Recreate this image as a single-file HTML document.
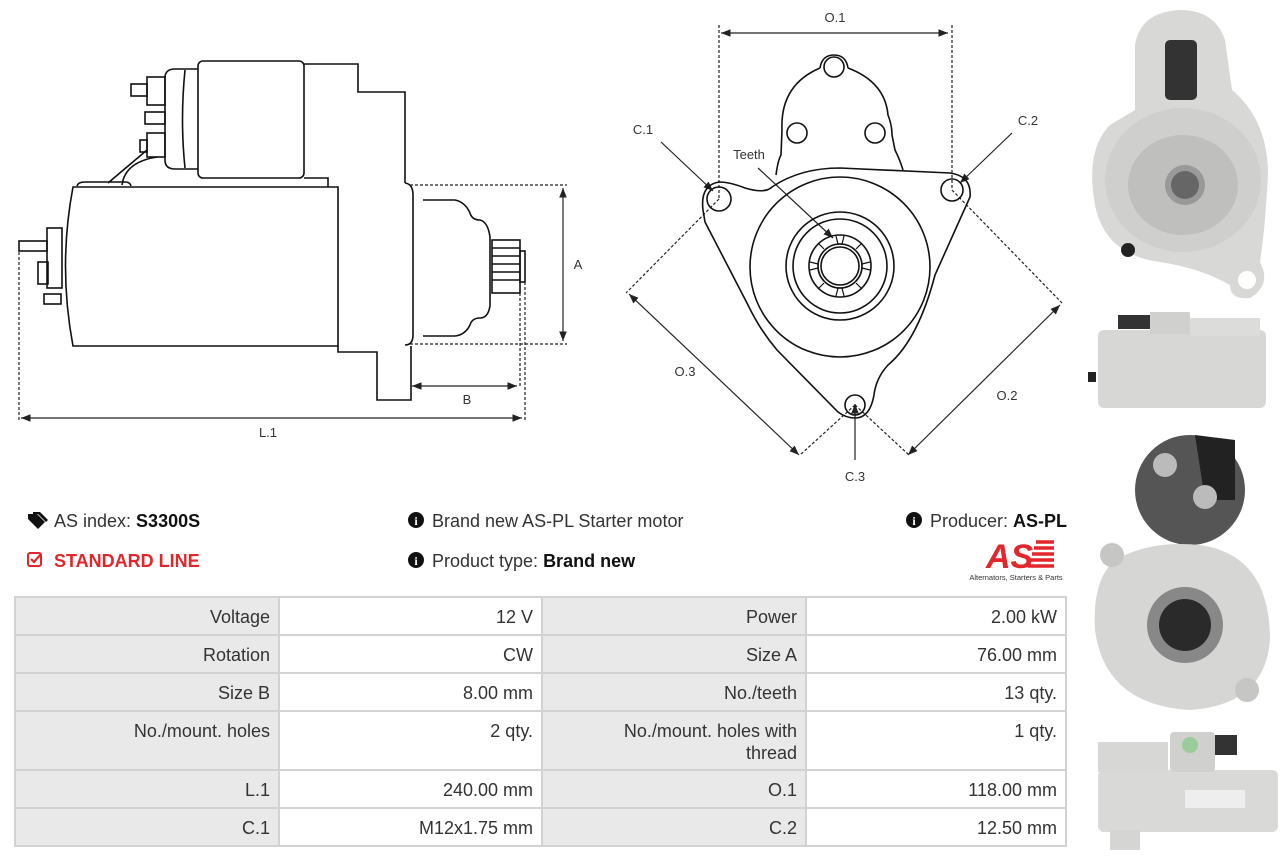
<!DOCTYPE html>
<html><head><meta charset="utf-8">
<style>
html,body{margin:0;padding:0;background:#fff;width:1282px;height:860px;overflow:hidden;position:relative;font-family:"Liberation Sans",sans-serif;}
svg{position:absolute;left:0;top:0}
.t{position:absolute;font-size:18px;color:#333;white-space:nowrap;line-height:20px}
.t b{color:#111}
table{position:absolute;left:14px;top:596px;width:1053px;border-collapse:collapse;font-size:18px;color:#333}
td{border:2px solid #d2d2d2;text-align:right;padding:0 8px;vertical-align:top;line-height:22px}
td.l{background:#e9e9e9}
td.v{background:#fff}
</style></head><body>
<svg width="1282" height="860" viewBox="0 0 1282 860">
<defs>
<marker id="ar" viewBox="0 0 10 10" refX="10" refY="5" markerWidth="8" markerHeight="8" orient="auto-start-reverse"><path d="M0,1 L10,5 L0,9 z" fill="#222"/></marker>
</defs>
<g fill="none" stroke="#111" stroke-width="1.6">
<path d="M73,187 L338,187 L338,346 L73,346 Q58,266 73,187 Z" fill="#fff"/>
<rect x="198" y="61" width="106" height="117" rx="5" fill="#fff"/>
<path d="M198,69 L175,69 Q165,69 165,78 L165,160 Q165,169 175,169 L198,169"/>
<path d="M185,70 Q180,120 185,168"/>
<path d="M304,64 L358,64 L358,92 L405,92 L405,183 M304,178 L328,178 L328,187"/>
<path d="M338,346 L338,352 L377,352 L377,400 L411,400 L411,346"/>
<path d="M405,183 Q413,184 413,195 L413,335 Q413,345 405,345"/>
<path d="M423,200 L455,200 Q465,202 470,213 Q472,220 480,220 Q488,222 490,237 L490,306 Q488,318 480,318 Q472,318 470,325 Q465,335 455,336 L423,336"/>
<rect x="492" y="240" width="28" height="53"/>
<path d="M492,248 L520,248 M492,256 L520,256 M492,264 L520,264 M492,272 L520,272 M492,280 L520,280"/>
<rect x="520" y="251" width="5" height="31"/>
<rect x="47" y="228" width="15" height="60"/>
<rect x="38" y="262" width="10" height="22"/>
<rect x="19" y="241" width="28" height="10"/>
<rect x="44" y="294" width="17" height="10"/>
<rect x="147" y="77" width="18" height="28"/>
<rect x="131" y="84" width="16" height="12"/>
<rect x="147" y="133" width="18" height="24"/>
<rect x="140" y="140" width="7" height="12"/>
<rect x="145" y="112" width="20" height="12"/>
<path d="M147,150 L108,183 M157,157 Q125,162 122,185 M77,186 Q78,182 85,182 L125,182 Q130,182 131,186"/>
</g>
<g stroke="#222" stroke-width="1.2" fill="none" stroke-dasharray="3,2">
<path d="M410,185 L567,185 M410,344 L567,344 M520,293 L520,386 M525,282 L525,421 M19,252 L19,421"/>
<path d="M719,25 L719,200 M952,25 L952,190"/>
<path d="M719,199 L626,293 M855,405 L800,455 M952,190 L1062,303 M855,405 L909,455"/>
</g>
<g stroke="#222" stroke-width="1.2" fill="none" marker-start="url(#ar)" marker-end="url(#ar)">
<path d="M563,188 L563,341"/>
<path d="M412,386 L517,386"/>
<path d="M21,418 L522,418"/>
<path d="M721,33 L948,33"/>
<path d="M629,294 L799,455"/>
<path d="M1060,305 L908,455"/>
</g>
<g stroke="#222" stroke-width="1.2" fill="none" marker-end="url(#ar)">
<path d="M661,142 L713,191"/>
<path d="M1012,133 L960,183"/>
<path d="M855,460 L855,404"/>
<path d="M758,168 L833,238"/>
</g>
<g fill="none" stroke="#111" stroke-width="1.6">
<path d="M776,175 Q778,160 781,155 L782,130 Q780,85 820,68 M848,68 Q885,82 888,115 Q892,125 892,135 L895,150 Q900,160 903,170"/>
<path d="M703,210 Q700,185 719,182 Q730,182 745,188 Q765,194 772,187 Q800,168 840,168 L950,173 Q972,176 970,197 L935,275 Q918,340 888,365 Q876,378 874,395 Q870,418 855,418 Q846,418 838,412 L777,350 Q760,330 748,305 L705,222 Z"/>
<path d="M820,68 Q822,55 834,55 Q846,55 848,68"/>
<circle cx="834" cy="67" r="10"/><circle cx="797" cy="133" r="10"/><circle cx="875" cy="133" r="10"/>
<circle cx="719" cy="199" r="12"/><circle cx="952" cy="190" r="11"/><circle cx="855" cy="405" r="10"/>
<circle cx="840" cy="267" r="90"/>
<circle cx="840" cy="266" r="54"/><circle cx="840" cy="266" r="47"/><circle cx="840" cy="266" r="31"/>
<circle cx="840" cy="266" r="22"/><circle cx="840" cy="266" r="19"/>
<g stroke-width="1.2">
<path d="M836,236 L838,244 L842,244 L844,236 M836,296 L838,288 L842,288 L844,296 M810,262 L818,264 L818,268 L810,270 M870,262 L862,264 L862,268 L870,270 M818,243 L824,249 M862,243 L856,249 M818,289 L824,283 M862,289 L856,283"/>
</g>
</g>
<g font-family="Liberation Sans,sans-serif" font-size="13" fill="#333">
<text x="578" y="269" text-anchor="middle">A</text>
<text x="467" y="404" text-anchor="middle">B</text>
<text x="268" y="437" text-anchor="middle">L.1</text>
<text x="835" y="22" text-anchor="middle">O.1</text>
<text x="643" y="134" text-anchor="middle">C.1</text>
<text x="1028" y="125" text-anchor="middle">C.2</text>
<text x="855" y="481" text-anchor="middle">C.3</text>
<text x="749" y="159" text-anchor="middle">Teeth</text>
<text x="685" y="376" text-anchor="middle">O.3</text>
<text x="1007" y="400" text-anchor="middle">O.2</text>
</g>
<g>
<path d="M1135,45 Q1140,12 1180,10 Q1215,10 1225,40 L1232,90 Q1268,120 1268,175 Q1265,230 1260,262 Q1272,285 1250,298 Q1230,300 1230,285 Q1200,268 1160,262 Q1105,255 1095,205 Q1085,150 1110,125 L1135,110 Z" fill="#d8d8d6"/>
<ellipse cx="1183" cy="180" rx="78" ry="72" fill="#cfcfcd"/>
<ellipse cx="1183" cy="185" rx="55" ry="50" fill="#bfbfbd"/>
<circle cx="1185" cy="185" r="20" fill="#999"/><circle cx="1185" cy="185" r="14" fill="#666"/>
<rect x="1165" y="40" width="32" height="60" rx="5" fill="#333"/>
<circle cx="1128" cy="250" r="7" fill="#222"/><circle cx="1247" cy="280" r="9" fill="#fff"/>
<rect x="1098" y="330" width="168" height="78" rx="6" fill="#d7d7d5"/>
<rect x="1150" y="312" width="40" height="22" fill="#d0d0ce"/>
<rect x="1118" y="315" width="32" height="14" fill="#333"/>
<rect x="1190" y="318" width="70" height="18" fill="#dcdcda"/>
<rect x="1088" y="372" width="8" height="10" fill="#222"/>
<ellipse cx="1190" cy="490" rx="55" ry="55" fill="#555"/>
<path d="M1195,435 L1235,440 L1235,500 L1205,500 Z" fill="#222"/>
<circle cx="1165" cy="465" r="12" fill="#bbb"/><circle cx="1205" cy="497" r="12" fill="#bbb"/>
<path d="M1115,560 Q1150,540 1200,545 Q1270,555 1270,640 Q1265,705 1190,710 Q1105,705 1095,630 Q1092,580 1115,560 Z" fill="#d6d6d4"/>
<circle cx="1185" cy="625" r="38" fill="#888"/><circle cx="1185" cy="625" r="26" fill="#2a2a2a"/>
<circle cx="1112" cy="555" r="12" fill="#c6c6c4"/><circle cx="1247" cy="690" r="12" fill="#c6c6c4"/>
<rect x="1098" y="770" width="180" height="62" rx="6" fill="#d9d9d7"/>
<rect x="1098" y="742" width="70" height="30" fill="#d7d7d5"/>
<rect x="1170" y="732" width="45" height="40" rx="4" fill="#d0d0ce"/>
<circle cx="1190" cy="745" r="8" fill="#9c9"/>
<rect x="1215" y="735" width="22" height="20" fill="#333"/>
<rect x="1185" y="790" width="60" height="18" fill="#eee"/>
<rect x="1110" y="830" width="30" height="20" fill="#d5d5d3"/>
</g>
<g>
<text x="986" y="568" font-family="Liberation Sans,sans-serif" font-weight="bold" font-style="italic" font-size="34" fill="#e3262b">AS</text>
<path d="M1036,542 h18 M1034,548 h20 M1032,554 h22 M1030,560 h24 M1028,566 h26" stroke="#e3262b" stroke-width="3.5"/>
<text x="1016" y="580" text-anchor="middle" font-family="Liberation Sans,sans-serif" font-size="7.5" fill="#333">Alternators, Starters &amp; Parts</text>
</g>
<g fill="#111">
<path d="M28,514 L37,514 L45,522 L38,529 L28,519 Z"/><path d="M33,512 L40,512 L48,520 L46,522 L38,514 L33,514 Z"/>
<circle cx="416" cy="520" r="8"/><circle cx="416" cy="560" r="8"/><circle cx="914" cy="520" r="8"/>
</g>
<g fill="#fff" font-family="Liberation Serif,serif" font-weight="bold" font-size="12" text-anchor="middle">
<text x="416" y="525">i</text><text x="416" y="565">i</text><text x="914" y="525">i</text>
</g>
<rect x="28" y="553" width="13" height="13" rx="2" fill="none" stroke="#e3262b" stroke-width="2"/>
<path d="M31,559 L34,562 L41,554" fill="none" stroke="#e3262b" stroke-width="2.2"/>
</svg>
<div class="t" style="left:54px;top:511px">AS index: <b>S3300S</b></div>
<div class="t" style="left:54px;top:551px;color:#e3262b;font-weight:bold">STANDARD LINE</div>
<div class="t" style="left:432px;top:511px">Brand new AS-PL Starter motor</div>
<div class="t" style="left:432px;top:551px">Product type: <b>Brand new</b></div>
<div class="t" style="left:930px;top:511px">Producer: <b>AS-PL</b></div>
<table>
<tr style="height:38px"><td class="l" style="width:246px;padding-top:8px">Voltage</td><td class="v" style="width:245px;padding-top:8px">12 V</td><td class="l" style="width:246px;padding-top:8px">Power</td><td class="v" style="padding-top:8px">2.00 kW</td></tr>
<tr style="height:38px"><td class="l" style="padding-top:8px">Rotation</td><td class="v" style="padding-top:8px">CW</td><td class="l" style="padding-top:8px">Size A</td><td class="v" style="padding-top:8px">76.00 mm</td></tr>
<tr style="height:38px"><td class="l" style="padding-top:8px">Size B</td><td class="v" style="padding-top:8px">8.00 mm</td><td class="l" style="padding-top:8px">No./teeth</td><td class="v" style="padding-top:8px">13 qty.</td></tr>
<tr style="height:59px"><td class="l" style="padding-top:8px">No./mount. holes</td><td class="v" style="padding-top:8px">2 qty.</td><td class="l" style="padding-top:8px">No./mount. holes with<br>thread</td><td class="v" style="padding-top:8px">1 qty.</td></tr>
<tr style="height:38px"><td class="l" style="padding-top:8px">L.1</td><td class="v" style="padding-top:8px">240.00 mm</td><td class="l" style="padding-top:8px">O.1</td><td class="v" style="padding-top:8px">118.00 mm</td></tr>
<tr style="height:38px"><td class="l" style="padding-top:8px">C.1</td><td class="v" style="padding-top:8px">M12x1.75 mm</td><td class="l" style="padding-top:8px">C.2</td><td class="v" style="padding-top:8px">12.50 mm</td></tr>
</table>
</body></html>
